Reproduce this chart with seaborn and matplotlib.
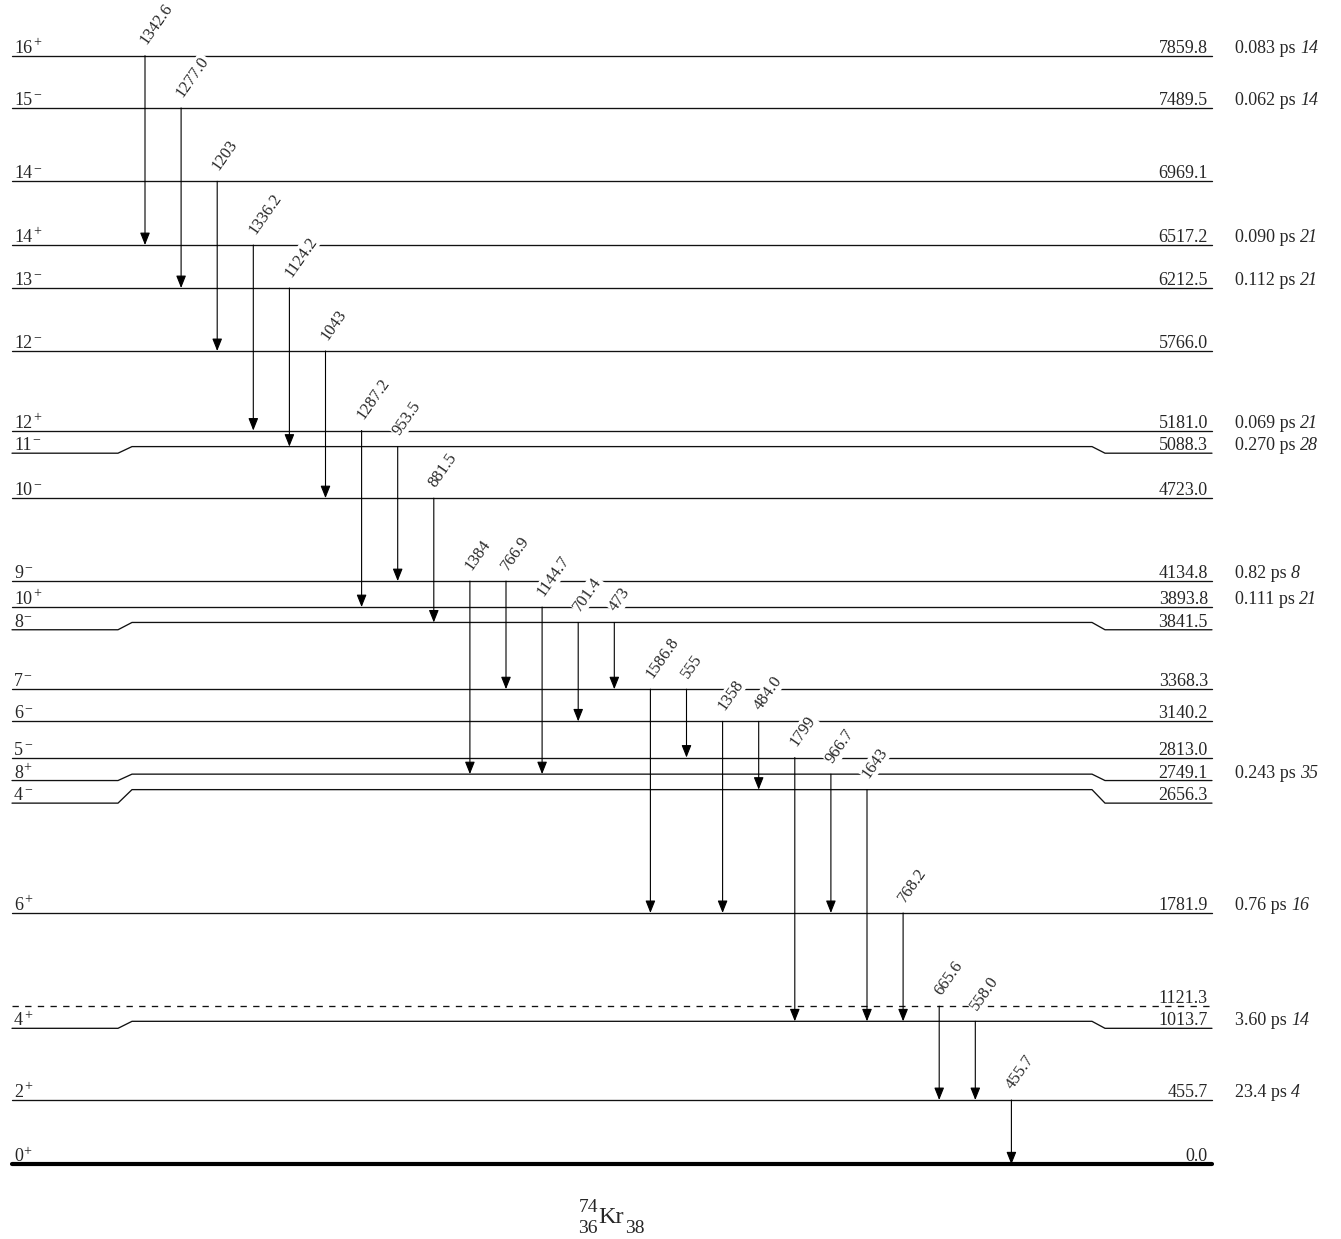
import pandas as pd
import seaborn as sns
import matplotlib.pyplot as plt

# levels of 74Kr, top to bottom (keV)
level_energy = [7859.8, 7489.5, 6969.1, 6517.2, 6212.5, 5766.0, 5181.0, 5088.3, 4723.0,
                4134.8, 3893.8, 3841.5, 3368.3, 3140.2, 2813.0, 2749.1, 2656.3,
                1781.9, 1121.3, 1013.7, 455.7, 0.0]
level_spin = ["16", "15", "14", "14", "13", "12", "12", "11", "10",
              "9", "10", "8", "7", "6", "5", "8", "4",
              "6", "", "4", "2", "0"]
level_parity = ["+", "\u2212", "\u2212", "+", "\u2212", "\u2212", "+", "\u2212", "\u2212",
                "\u2212", "+", "\u2212", "\u2212", "\u2212", "\u2212", "+", "\u2212",
                "+", "", "+", "+", "+"]
halflife_value = ["0.083", "0.062", "", "0.090", "0.112", "", "0.069", "0.270", "",
                  "0.82", "0.111", "", "", "", "", "0.243", "",
                  "0.76", "", "3.60", "23.4", ""]
halflife_err = ["14", "14", "", "21", "21", "", "21", "28", "",
                "8", "21", "", "", "", "", "35", "",
                "16", "", "14", "4", ""]

# gamma transitions, left to right
gamma_label = ["1342.6", "1277.0", "1203", "1336.2", "1124.2", "1043", "1287.2", "953.5",
               "881.5", "1384", "766.9", "1144.7", "701.4", "473", "1586.8", "555",
               "1358", "484.0", "1799", "966.7", "1643", "768.2", "665.6", "558.0", "455.7"]
gamma_from = [7859.8, 7489.5, 6969.1, 6517.2, 6212.5, 5766.0, 5181.0, 5088.3,
              4723.0, 4134.8, 4134.8, 3893.8, 3841.5, 3841.5, 3368.3, 3368.3,
              3140.2, 3140.2, 2813.0, 2749.1, 2656.3, 1781.9, 1121.3, 1013.7, 455.7]
gamma_to = [6517.2, 6212.5, 5766.0, 5181.0, 5088.3, 4723.0, 3893.8, 4134.8,
            3841.5, 2749.1, 3368.3, 2749.1, 3140.2, 3368.3, 1781.9, 2813.0,
            1781.9, 2656.3, 1013.7, 1781.9, 1013.7, 1013.7, 455.7, 455.7, 0.0]

# --- layout (pixels) ---
W, H = 1341, 1239
Y_ZERO = 1164.3          # pixel row of the ground state
PX_PER_KEV = 0.14105
X_LEFT, X_RIGHT = 12, 1212
KINK_L = (118, 132)
KINK_R = (1092, 1105)
X_FIRST_GAMMA, GAMMA_STEP = 145, 36.1
# hand nudges of the drawing so labels do not collide (px, up positive)
line_shift = {5181.0: 3, 3893.8: 8, 2813.0: 10, 2749.1: 2.4}
end_drop = {5088.3: 6.6, 3841.5: 7.3, 2749.1: 6.4, 2656.3: 13.5, 1013.7: 7}
DASHED = [1121.3]

px = 1 / PX_PER_KEV  # keV per pixel


def mid_y(e):
    return e + line_shift.get(e, 0) * px


def end_y(e):
    return mid_y(e) - end_drop.get(e, 0) * px


def row(p):
    # pixel row -> data y
    return (Y_ZERO - p) * px


sns.set_theme(style="white")
plt.rcParams['font.family'] = ['Liberation Serif', 'DejaVu Serif']

fig = plt.figure(figsize=(W / 100, H / 100), dpi=100)
ax = fig.add_axes([0, 0, 1, 1])
ax.set_xlim(0, W)
ax.set_ylim(row(H), row(0))
ax.axis('off')

# level lines as polylines
rows = []
for i, e in enumerate(level_energy):
    kind = 'ground' if e == 0 else ('dashed' if e in DASHED else 'level')
    ym, ye = mid_y(e), end_y(e)
    xs = [X_LEFT, KINK_L[0], KINK_L[1], KINK_R[0], KINK_R[1], X_RIGHT]
    ys = [ye, ye, ym, ym, ye, ye]
    for x, y in zip(xs, ys):
        rows.append({'level': i, 'x': x, 'E': y, 'kind': kind})
df_levels = pd.DataFrame(rows)

sns.lineplot(data=df_levels[df_levels.kind == 'level'], x='x', y='E', units='level',
             estimator=None, sort=False, color='#111111', lw=0.95, ax=ax)
sns.lineplot(data=df_levels[df_levels.kind == 'dashed'], x='x', y='E', units='level',
             estimator=None, sort=False, color='#111111', lw=0.95,
             linestyle=(0, (4.8, 4.8)), ax=ax)
sns.lineplot(data=df_levels[df_levels.kind == 'ground'], x='x', y='E', units='level',
             estimator=None, sort=False, color='black', lw=3.0,
             solid_capstyle='round', ax=ax)
ax.set_xlabel('')
ax.set_ylabel('')

FS = 13
# level labels
for e, spin, par, hv, he in zip(level_energy, level_spin, level_parity,
                                halflife_value, halflife_err):
    yl = end_y(e) + 3 * px
    if spin:
        t = ax.text(14, yl, spin, ha='left', va='baseline', fontsize=FS)
        ax.annotate(par, xy=(1, 0), xycoords=t, xytext=(0.6, 7.6),
                    textcoords='offset points', ha='left', va='baseline',
                    fontsize=10)
    ax.text(1208, yl, f"{e:.1f}", ha='right', va='baseline', fontsize=FS)
    if hv:
        t = ax.text(1235, yl, f"{hv} ps", ha='left', va='baseline', fontsize=FS)
        ax.annotate(he, xy=(1, 0), xycoords=t, xytext=(3.2, 0),
                    textcoords='offset points', ha='left', va='bottom',
                    fontsize=FS, fontstyle='italic')

# gamma arrows
for i, (lab, ef, et) in enumerate(zip(gamma_label, gamma_from, gamma_to)):
    x = X_FIRST_GAMMA + i * GAMMA_STEP
    y0, y1 = mid_y(ef), mid_y(et)
    ax.annotate('', xy=(x, y1), xytext=(x, y0),
                arrowprops=dict(arrowstyle='-|>,head_length=0.75,head_width=0.3',
                                mutation_scale=10, lw=0.8, color='black',
                                shrinkA=0, shrinkB=0), zorder=2)
    ax.text(x + 5, y0 + 8 * px, lab, rotation=55, rotation_mode='anchor',
            ha='left', va='bottom', fontsize=12, zorder=4,
            bbox=dict(fc='white', ec='none', pad=0.6))

# nucleus label: A and Z stacked on the left, N as subscript
ax.text(598, row(1223), "Kr", ha='left', va='baseline', fontsize=17.5)
ax.text(598, row(1212), "74", ha='right', va='baseline', fontsize=14)
ax.text(598, row(1233), "36", ha='right', va='baseline', fontsize=14)
ax.text(625, row(1233), "38", ha='left', va='baseline', fontsize=14)

fig.savefig('out.png', dpi=100)
